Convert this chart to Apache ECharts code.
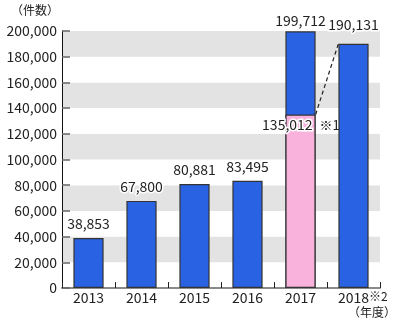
<!DOCTYPE html>
<html>
<head>
<meta charset="utf-8">
<script src="https://cdn.jsdelivr.net/npm/echarts@6/dist/echarts.min.js"></script>
<style>
  html, body { margin: 0; padding: 0; background: #fff; }
  #chart { width: 400px; height: 325px; }
</style>
</head>
<body>
<div id="chart"></div>
<script>
// 年度別の件数
const years = ['2013', '2014', '2015', '2016', '2017', '2018'];
const totals = [38853, 67800, 80881, 83495, 199712, 190131];
// 2017年度の内訳（※1）
const subsetValues = [null, null, null, null, 135012, null];
const yTicks = [0, 20000, 40000, 60000, 80000, 100000, 120000, 140000, 160000, 180000, 200000];

const FONT = '"Noto Sans CJK JP", "Noto Sans", sans-serif';
const BLUE = '#2963e4';
const PINK = '#f8b2dc';
const BAR_RATIO = 0.57;

const fmt = v => v.toLocaleString('en-US');

const chart = echarts.init(document.getElementById('chart'), null, { renderer: 'canvas' });

// 2017の内訳上端から2018の棒上端へ結ぶ破線
const connector = [[4, subsetValues[4], 5, totals[5]]];

chart.setOption({
  animation: false,
  textStyle: { fontFamily: FONT },
  grid: { left: 62, right: 20, top: 31, bottom: 37, containLabel: false },
  xAxis: {
    type: 'category',
    data: years,
    axisLine: { lineStyle: { color: '#8a8a8a', width: 2 } },
    axisTick: { show: true, inside: true, length: 6, interval: 0, alignWithLabel: false, lineStyle: { color: '#222', width: 1 } },
    axisLabel: {
      interval: 0, hideOverlap: false,
      fontSize: 14, color: '#222', margin: 2, fontFamily: FONT,
      // 2018の注記は年の右肩に付け、年の数字自体は中央揃えを保つ
      formatter: v => v === '2018' ? '{p|※2}{n|2018}{s|※2}' : '{n|' + v + '}',
      rich: {
        n: { fontSize: 14, color: '#222', lineHeight: 15, verticalAlign: 'bottom' },
        s: { fontSize: 12, color: '#222', lineHeight: 15, verticalAlign: 'top' },
        p: { fontSize: 12, color: 'rgba(0,0,0,0)', lineHeight: 15, verticalAlign: 'top' }
      }
    }
  },
  yAxis: {
    type: 'value',
    min: yTicks[0],
    max: yTicks[yTicks.length - 1],
    interval: yTicks[1] - yTicks[0],
    axisLine: { show: true, lineStyle: { color: '#111', width: 1 } },
    axisTick: { show: true, inside: true, length: 8, lineStyle: { color: '#666', width: 1.5 } },
    axisLabel: { fontSize: 14, color: '#222', margin: 5, fontFamily: FONT, formatter: v => fmt(v) },
    splitLine: { show: false },
    splitArea: { show: true, areaStyle: { color: ['#ffffff', '#e3e3e3'] } }
  },
  series: [
    {
      name: '件数',
      type: 'bar',
      data: totals.map((v, i) => ({
        value: v,
        label: i === 4 ? { distance: 4 } : (i === 5 ? { distance: 12 } : {})
      })),
      barWidth: (BAR_RATIO * 100) + '%',
      barGap: '-100%',
      itemStyle: { color: BLUE, borderColor: '#333', borderWidth: 1.2 },
      label: {
        show: true, position: 'top', distance: 7,
        fontSize: 14, color: '#222', fontFamily: FONT,
        textBorderColor: '#fff', textBorderWidth: 3,
        formatter: p => fmt(p.value)
      },
      z: 2
    },
    {
      name: '内訳',
      type: 'bar',
      data: subsetValues,
      barWidth: (BAR_RATIO * 100) + '%',
      barGap: '-100%',
      itemStyle: { color: PINK, borderColor: '#333', borderWidth: 1.2 },
      label: {
        show: true, position: 'insideTopRight', distance: 3,
        fontSize: 14, color: '#222', fontFamily: FONT,
        textBorderColor: '#fff', textBorderWidth: 3,
        formatter: p => fmt(p.value)
      },
      z: 3
    },
    {
      type: 'custom',
      data: connector,
      dimensions: ['x1', 'y1', 'x2', 'y2'],
      encode: { x: [0, 2], y: [1, 3] },
      z: 5,
      silent: true,
      renderItem: (params, api) => {
        const p1 = api.coord([api.value(0), api.value(1)]);
        const p2 = api.coord([api.value(2), api.value(3)]);
        const half = api.size([1, 0])[0] * BAR_RATIO / 2;
        return {
          type: 'group',
          children: [
            {
              type: 'line',
              shape: { x1: p1[0] + half, y1: p1[1], x2: p2[0] - half, y2: p2[1] },
              style: { stroke: '#222', lineWidth: 1.2, lineDash: [4, 3] }
            },
            {
              type: 'text',
              style: {
                text: '※1', x: p1[0] + half + 4, y: p1[1] + 11,
                fontSize: 13, fontFamily: FONT, fill: '#222',
                verticalAlign: 'middle', align: 'left'
              }
            }
          ]
        };
      }
    }
  ],
  graphic: [
    { type: 'text', left: 11, top: 4, style: { text: '（件数）', fontSize: 12, fontFamily: FONT, fill: '#222' } },
    { type: 'text', left: 348, top: 306, style: { text: '（年度）', fontSize: 12, fontFamily: FONT, fill: '#222' } }
  ]
});
</script>
</body>
</html>
